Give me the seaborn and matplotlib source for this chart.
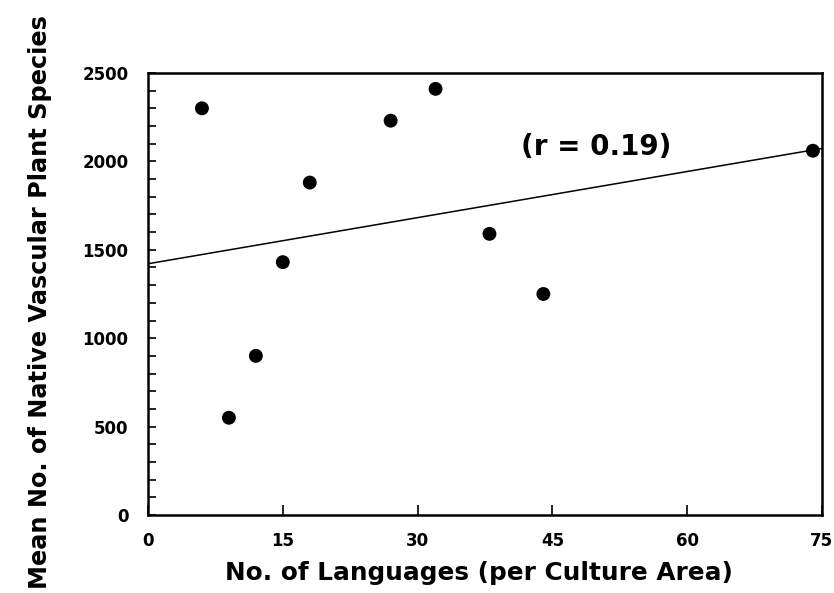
import numpy as np
import pandas as pd
import seaborn as sns
import matplotlib.pyplot as plt
from matplotlib.ticker import MultipleLocator

# values
languages = [6, 9, 12, 15, 18, 27, 32, 38, 44, 74]
plant_species = [2300, 550, 900, 1430, 1880, 2230, 2410, 1590, 1250, 2060]
x_ticks = [0, 15, 30, 45, 60, 75]
y_ticks = [0, 500, 1000, 1500, 2000, 2500]
r_label = "(r = 0.19)"

df = pd.DataFrame({"languages": languages, "species": plant_species})

sns.set_style("ticks")
plt.rcParams["font.family"] = ["DejaVu Sans"]
plt.rcParams["font.weight"] = "bold"
plt.rcParams["axes.labelweight"] = "bold"
plt.rcParams["text.color"] = "black"
plt.rcParams["axes.labelcolor"] = "black"
plt.rcParams["xtick.color"] = "black"
plt.rcParams["ytick.color"] = "black"

fig = plt.figure(figsize=(8.34, 5.93), dpi=100)
ax = fig.add_axes([0.1775, 0.1315, 0.808, 0.7455])
ax.set_xlim(0, 75)
ax.set_ylim(0, 2500)

sns.regplot(data=df, x="languages", y="species", ci=None, truncate=False, ax=ax,
            scatter_kws={"s": 100, "color": "black", "edgecolor": "none", "alpha": 1},
            line_kws={"color": "black", "lw": 1.1})

ax.set_xlim(0, 75)
ax.set_ylim(0, 2500)
ax.set_xticks(x_ticks)
ax.set_yticks(y_ticks)
ax.yaxis.set_minor_locator(MultipleLocator(100))
ax.tick_params(axis="both", which="both", direction="in", labelsize=12, width=1.2)
ax.tick_params(axis="x", which="major", length=7, pad=12)
ax.tick_params(axis="y", which="major", length=6, pad=14)
ax.tick_params(axis="y", which="minor", length=6)
for s in ax.spines.values():
    s.set_linewidth(1.8)
    s.set_color("black")

ax.text(41.5, 2080, r_label, fontsize=20, va="center", ha="left")
ax.set_xlabel("No. of Languages (per Culture Area)", fontsize=17.8)
ax.set_ylabel("Mean No. of Native Vascular Plant Species", fontsize=17.3)
ax.xaxis.set_label_coords(0.491, -0.104)
ax.yaxis.set_label_coords(-0.142, 0.482)

fig.savefig("out.png", dpi=100)
